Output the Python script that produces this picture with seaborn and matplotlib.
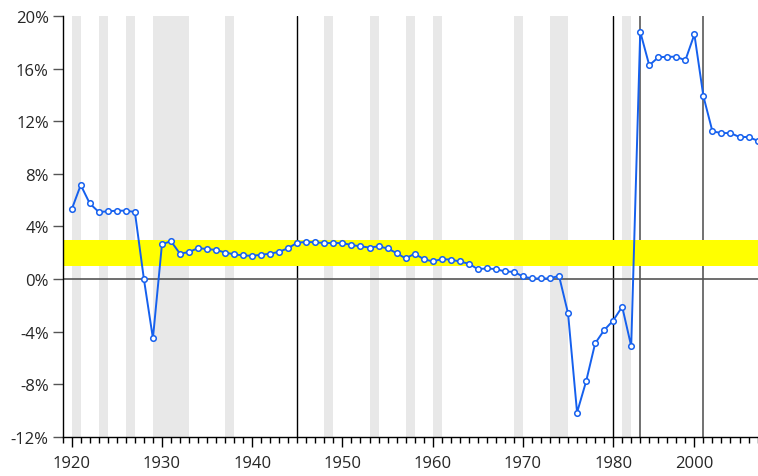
import numpy as np
import pandas as pd
import matplotlib
matplotlib.use("Agg")
import matplotlib.pyplot as plt
from matplotlib.ticker import FixedLocator, FuncFormatter
import seaborn as sns

# ---- data ----
years = list(range(1920, 1997))
rates = [
    5.3, 7.15, 5.75, 5.1, 5.15, 5.2, 5.2, 5.1, 0.0, -4.5,
    2.65, 2.88, 1.93, 2.06, 2.36, 2.28, 2.22, 2.02, 1.88, 1.8,
    1.77, 1.85, 1.93, 2.08, 2.36, 2.77, 2.82, 2.8, 2.74, 2.74,
    2.74, 2.59, 2.49, 2.4, 2.49, 2.33, 1.98, 1.57, 1.93, 1.52,
    1.34, 1.52, 1.48, 1.34, 1.17, 0.76, 0.81, 0.76, 0.58, 0.55,
    0.2, 0.05, 0.05, 0.05, 0.25, -2.6, -10.14, -7.78, -4.89, -3.88,
    -3.15, -2.1, -5.1, 18.8, 16.25, 16.86, 16.9, 16.9, 16.63, 18.6,
    13.9, 11.23, 11.1, 11.1, 10.8, 10.8, 10.52,
]

shade_start = [1920, 1923, 1926, 1929, 1937, 1948, 1953, 1957, 1960, 1969, 1973, 1981]
shade_end = [1921, 1924, 1927, 1933, 1938, 1949, 1954, 1958, 1961, 1970, 1975, 1982]

band_low, band_high = 1, 3

black_lines = [1945, 1980]
gray_lines = [1983, 1990]

xtick_pos = [1920, 1930, 1940, 1950, 1960, 1970, 1980, 1989]
xtick_labels = ["1920", "1930", "1940", "1950", "1960", "1970", "1980", "2000"]
ytick_vals = [-12, -8, -4, 0, 4, 8, 12, 16, 20]

df = pd.DataFrame({"year": years, "rate": rates})

sns.set_style("white")
plt.rcParams["font.family"] = ["Open Sans", "DejaVu Sans"]

fig = plt.figure(figsize=(7.58, 4.77), dpi=100)
ax = fig.add_axes([0.0827, 0.0818, 0.9173, 0.8826])

for s, e in zip(shade_start, shade_end):
    ax.axvspan(s, e, color="#e8e8e8", lw=0, zorder=0)

for x in black_lines:
    ax.axvline(x, color="black", lw=1, zorder=1)
for x in gray_lines:
    ax.axvline(x, color="#666666", lw=1.3, zorder=1)

ax.axhspan(band_low, band_high, color="#ffff00", lw=0, zorder=2)
ax.axhline(0, color="#555555", lw=1.2, zorder=2)

sns.lineplot(
    data=df, x="year", y="rate", ax=ax,
    color="#1560ee", lw=1.4, marker="o", markersize=4,
    markerfacecolor="white", markeredgecolor="#1560ee", markeredgewidth=1.1,
    zorder=3, clip_on=False,
)

ax.set_xlim(1919, 1996.05)
ax.set_ylim(-12, 20)
ax.set_xlabel("")
ax.set_ylabel("")

ax.xaxis.set_major_locator(FixedLocator(xtick_pos))
ax.set_xticklabels(xtick_labels)
ax.xaxis.set_minor_locator(FixedLocator(list(range(1919, 1997))))
ax.set_yticks(ytick_vals)
ax.yaxis.set_major_formatter(FuncFormatter(lambda v, p: f"{v:.0f}%"))

ax.tick_params(axis="x", which="major", length=7, width=1, color="black",
               labelsize=12, pad=6, direction="out", bottom=True)
ax.tick_params(axis="x", which="minor", length=4, width=1, color="black",
               direction="out", bottom=True)
ax.tick_params(axis="y", which="major", length=7, width=1, color="#555555",
               labelsize=12, pad=3, direction="out", left=True)

for side in ["top", "right"]:
    ax.spines[side].set_visible(False)
for side in ["left", "bottom"]:
    ax.spines[side].set_color("black")
    ax.spines[side].set_linewidth(1)

fig.savefig("out.png", dpi=100)
